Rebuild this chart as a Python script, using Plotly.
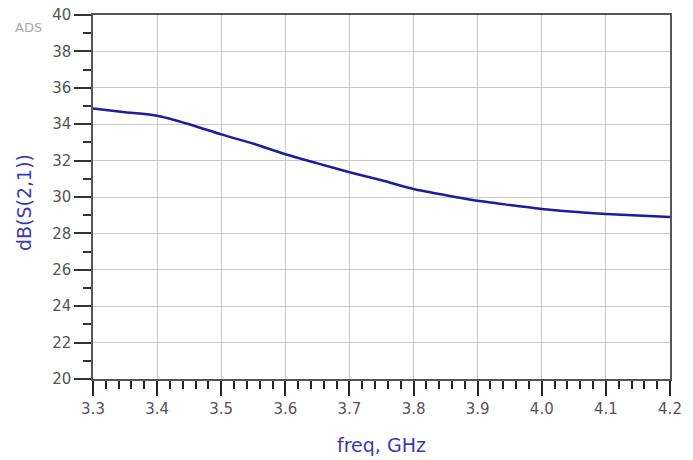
import plotly.graph_objects as go

# S21 magnitude versus frequency
freq_ghz = [3.30, 3.35, 3.40, 3.45, 3.50, 3.55, 3.60, 3.65, 3.70, 3.75,
            3.80, 3.85, 3.90, 3.95, 4.00, 4.05, 4.10, 4.15, 4.20]
s21_db = [34.86, 34.66, 34.47, 34.00, 33.44, 32.93, 32.35, 31.85, 31.36, 30.92,
          30.44, 30.10, 29.79, 29.56, 29.34, 29.19, 29.07, 28.99, 28.90]

x_ticks = [3.3, 3.4, 3.5, 3.6, 3.7, 3.8, 3.9, 4.0, 4.1, 4.2]
x_tick_text = ["3.3", "3.4", "3.5", "3.6", "3.7", "3.8", "3.9", "4.0", "4.1", "4.2"]
y_ticks = [20, 22, 24, 26, 28, 30, 32, 34, 36, 38, 40]

FONT = "DejaVu Sans, Verdana, sans-serif"
label_font = dict(family=FONT, size=15, color="#555555")
title_font = dict(family=FONT, size=19, color="#3c3cb0")

W, H = 693, 460
ML, MR, MT, MB = 93, 23, 15, 81
plot_w = W - ML - MR
plot_h = H - MT - MB


def px_to_paper(px, py):
    """Convert page pixel coordinates to paper coordinates."""
    return (px - ML) / plot_w, 1 - (py - MT) / plot_h


fig = go.Figure()
fig.add_trace(go.Scatter(
    x=freq_ghz, y=s21_db, mode="lines",
    line=dict(color="#1c1ca0", width=2.5, shape="spline", smoothing=0.6),
    showlegend=False,
))

fig.update_layout(
    width=W, height=H,
    margin=dict(l=ML, r=MR, t=MT, b=MB),
    paper_bgcolor="white", plot_bgcolor="white",
    xaxis=dict(
        range=[3.3, 4.2], tickvals=x_ticks, ticktext=x_tick_text,
        ticks="outside", ticklen=15, tickwidth=1.5, tickcolor="#222222",
        showline=True, linecolor="#555555", linewidth=1.5, mirror=True,
        showgrid=True, gridcolor="#c8c8c8", gridwidth=1,
        zeroline=False, tickfont=label_font, automargin=False,
        minor=dict(dtick=0.02, tick0=3.3, ticks="outside", ticklen=8,
                   tickwidth=1.5, tickcolor="#222222", showgrid=False),
    ),
    yaxis=dict(
        range=[20, 40], tickvals=y_ticks,
        ticks="outside", ticklen=17, tickwidth=1.5, tickcolor="#333333",
        showline=True, linecolor="#555555", linewidth=1.5, mirror=True,
        showgrid=True, gridcolor="#c8c8c8", gridwidth=1,
        zeroline=False, tickfont=label_font, automargin=False,
        minor=dict(dtick=1, tick0=21, ticks="outside", ticklen=8,
                   tickwidth=1.5, tickcolor="#333333", showgrid=False),
    ),
)

# axis titles
tx, ty = px_to_paper(381, 445)
fig.add_annotation(text="freq, GHz", x=tx, y=ty, xref="paper", yref="paper",
                   xanchor="center", yanchor="middle", showarrow=False,
                   font=title_font)
tx, ty = px_to_paper(24, 203)
fig.add_annotation(text="dB(S(2,1))", x=tx, y=ty, xref="paper", yref="paper",
                   xanchor="center", yanchor="middle", showarrow=False,
                   textangle=-90, font=title_font)

# "ADS" watermark
tx, ty = px_to_paper(28, 27)
fig.add_annotation(text="ADS", x=tx, y=ty, xref="paper", yref="paper",
                   xanchor="center", yanchor="middle", showarrow=False,
                   font=dict(family=FONT, size=13, color="#a8a8a8"))

fig.write_html("out.html")
